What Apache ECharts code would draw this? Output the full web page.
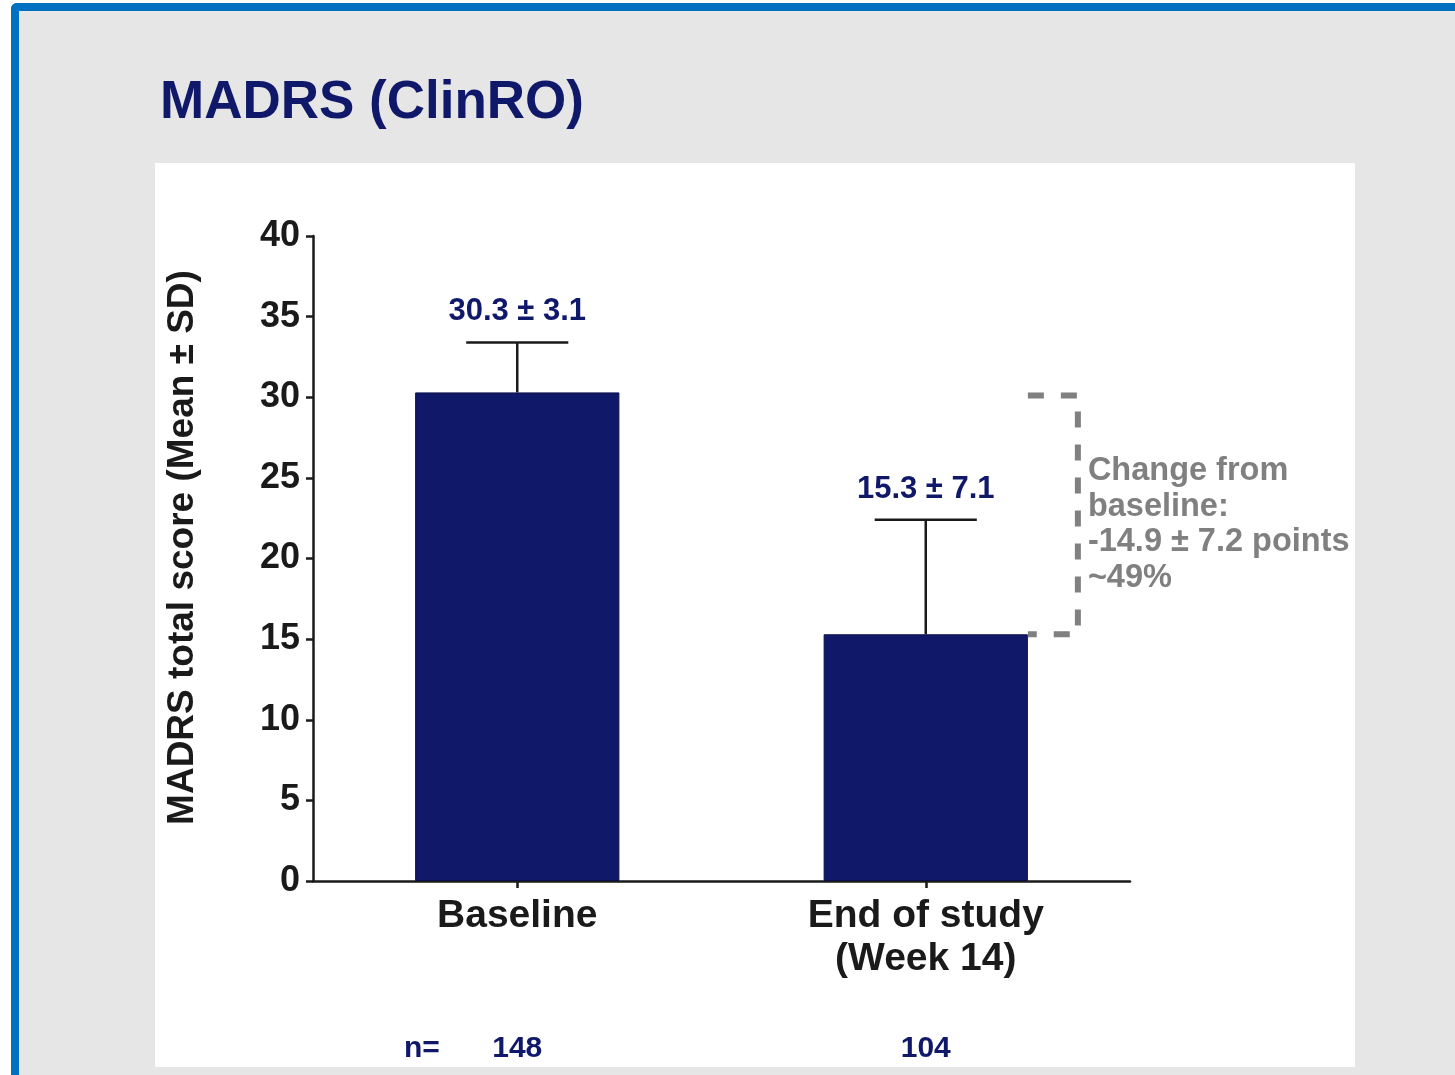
<!DOCTYPE html>
<html>
<head>
<meta charset="utf-8">
<script src="https://cdn.jsdelivr.net/npm/echarts@6/dist/echarts.min.js"></script>
<style>
  html, body { margin: 0; padding: 0; width: 1455px; height: 1075px; background: #ffffff; overflow: hidden; }
  #frame { position: absolute; left: 11px; top: 3px; width: 1460px; height: 1090px; background: #e6e6e6;
           border-top: 8px solid #0071c1; border-left: 8px solid #0071c1; border-top-left-radius: 6px; box-sizing: border-box; }
  #panel { position: absolute; left: 155px; top: 163px; width: 1200px; height: 904px; background: #ffffff; }
  #chart { position: absolute; left: 0; top: 0; width: 1455px; height: 1075px; }
</style>
</head>
<body>
<div id="frame"></div>
<div id="panel"></div>
<div id="chart"></div>
<script>
// ---- data ----
const titleText = 'MADRS (ClinRO)';
const categories = ['Baseline', 'End of study\n(Week 14)'];
const means = [30.3, 15.3];
const sds = [3.1, 7.1];
const meanLabels = ['30.3 \u00b1 3.1', '15.3 \u00b1 7.1'];
const nValues = [148, 104];
const yMin = 0, yMax = 40, yInterval = 5;
const yAxisName = 'MADRS total score (Mean \u00b1 SD)';
const changeLines = ['Change from', 'baseline:', '-14.9 \u00b1 7.2 points', '~49%'];

const NAVY = '#10186a';
const INK = '#1a1a1a';
const GREY = '#808080';
const FONT = '"Liberation Sans", Arial, sans-serif';

const chart = echarts.init(document.getElementById('chart'), null, { renderer: 'canvas' });

const option = {
  backgroundColor: 'transparent',
  animation: false,
  title: {
    text: titleText,
    left: 155, top: 72,
    textStyle: { fontFamily: FONT, fontWeight: 'bold', fontSize: 53, lineHeight: 53, color: NAVY }
  },
  grid: { left: 313, right: 325, top: 236, bottom: 194, containLabel: false },
  xAxis: [{
    type: 'category',
    data: categories,
    axisLine: { show: true, lineStyle: { color: INK, width: 2.5 } },
    axisTick: { show: true, alignWithLabel: true, length: 7, lineStyle: { color: INK, width: 2.5 } },
    axisLabel: { margin: 14, fontFamily: FONT, fontWeight: 'bold', fontSize: 39, lineHeight: 43, color: INK }
  }, {
    type: 'category',
    data: categories,
    position: 'bottom',
    axisLine: { show: false },
    axisTick: { show: false },
    axisLabel: {
      margin: 151, fontFamily: FONT, fontWeight: 'bold', fontSize: 30, lineHeight: 34, color: NAVY,
      formatter: (v, i) => String(nValues[i])
    }
  }],
  yAxis: {
    type: 'value', min: yMin, max: yMax, interval: yInterval,
    name: yAxisName, nameLocation: 'middle', nameGap: 112, nameRotate: 90,
    nameTextStyle: { fontFamily: FONT, fontWeight: 'bold', fontSize: 37, color: INK, padding: [0, 0, 0, 22] },
    axisLine: { show: true, lineStyle: { color: INK, width: 2.5 } },
    axisTick: { show: true, length: 7, lineStyle: { color: INK, width: 2.5 } },
    axisLabel: { margin: 13, fontFamily: FONT, fontWeight: 'bold', fontSize: 36, color: INK },
    splitLine: { show: false }
  },
  series: [
    {
      type: 'bar',
      data: means,
      barWidth: '50%',
      itemStyle: { color: NAVY, borderColor: '#0a0f4a', borderWidth: 1 },
      z: 2
    },
    {
      type: 'custom',
      data: means.map((m, i) => [i, m, sds[i]]),
      z: 3,
      renderItem: function (params, api) {
        const i = api.value(0);
        const m = api.value(1);
        const sd = api.value(2);
        const base = api.coord([i, m]);
        const top = api.coord([i, m + sd]);
        const band = api.size([1, 0])[0];
        const capHalf = band * 0.5 / 4;
        return {
          type: 'group',
          children: [
            { type: 'line', shape: { x1: base[0], y1: base[1], x2: top[0], y2: top[1] },
              style: { stroke: INK, lineWidth: 2.5 } },
            { type: 'line', shape: { x1: top[0] - capHalf, y1: top[1], x2: top[0] + capHalf, y2: top[1] },
              style: { stroke: INK, lineWidth: 2.5 } },
            { type: 'text', x: top[0], y: top[1] - 15,
              style: { text: meanLabels[i], fill: NAVY, font: 'bold 31px ' + FONT,
                       textAlign: 'center', textVerticalAlign: 'bottom' } }
          ]
        };
      }
    },
    {
      type: 'custom',
      data: [[1, means[0], means[1]]],
      z: 3,
      renderItem: function (params, api) {
        const i = api.value(0);
        const topP = api.coord([i, api.value(1)]);
        const botP = api.coord([i, api.value(2)]);
        const band = api.size([1, 0])[0];
        const xr = botP[0] + band * 0.25;
        const xb = xr + 50;
        const midY = (topP[1] + botP[1]) / 2 + 11;
        const lh = 35.5;
        const texts = changeLines.map((t, k) => ({
          type: 'text', x: xb + 10, y: midY + (k - (changeLines.length - 1) / 2) * lh,
          style: { text: t, fill: GREY, font: 'bold 32.5px ' + FONT, textAlign: 'left', textVerticalAlign: 'middle' }
        }));
        return {
          type: 'group',
          children: [
            { type: 'polyline',
              shape: { points: [[xr, topP[1] + 3], [xb, topP[1] + 3], [xb, botP[1]], [xr, botP[1]]] },
              style: { stroke: GREY, lineWidth: 6, fill: null, lineDash: [16, 17] } }
          ].concat(texts)
        };
      }
    }
  ],
  graphic: [
    { type: 'text', left: 404, top: 1034,
      style: { text: 'n=', fill: NAVY, font: 'bold 30px ' + FONT } }
  ]
};
chart.setOption(option);
</script>
</body>
</html>
